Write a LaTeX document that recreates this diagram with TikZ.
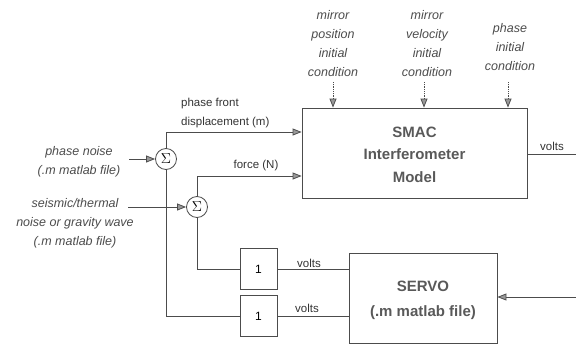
\documentclass[tikz,border=0pt]{standalone}
\usepackage{fontspec}
\setmainfont{Liberation Sans}
\usetikzlibrary{arrows.meta}
\begin{document}
\begin{tikzpicture}[x=1pt,y=-1pt,
  line/.style={draw=black!70, line width=0.8pt},
  arr/.style={line, -{Triangle[length=9pt,width=7pt,fill=black!40]}},
  darr/.style={arr, densely dotted},
  lbl/.style={font=\fontsize{11.5}{19}\selectfont, text=black!80, inner sep=1pt},
  ilbl/.style={font=\fontsize{12.5}{19}\selectfont\itshape, text=black!70, align=center, inner sep=0pt},
  big/.style={font=\fontsize{15}{22.5}\selectfont\bfseries, text=black!65, align=center},
  sumnode/.style={draw=black!70, line width=0.8pt, circle, minimum size=21pt, inner sep=0pt, font=\fontsize{14}{16}\selectfont},
  unitbox/.style={draw=black!70, line width=0.8pt, minimum width=37pt, minimum height=41pt, inner sep=0pt, font=\fontsize{12}{14}\selectfont},
]
\useasboundingbox (0,0) rectangle (576,343);

% main blocks
\node[draw=black!70, line width=0.8pt, minimum width=225pt, minimum height=90pt] (smac) at (414.5,153) {};
\node[big] at (414.5,154.5) {SMAC\\Interferometer\\Model};
\node[draw=black!70, line width=0.8pt, minimum width=148pt, minimum height=90pt] (servo) at (423,298) {};
\node[big, font=\fontsize{15}{25}\selectfont\bfseries] at (423,300) {SERVO\\(.m matlab file)};

% summing junctions
\node[sumnode] (s1) at (166,159) {$\Sigma$};
\node[sumnode] (s2) at (197,207) {$\Sigma$};

% unit gains
\node[unitbox] (g1) at (258.5,269) {1};
\node[unitbox] (g2) at (258.5,316) {1};

% input labels
\node[ilbl] (pn) at (79,162) {phase noise\\(.m matlab file)};
\node[ilbl] (sn) at (75,223.5) {seismic/thermal\\noise or gravity wave\\(.m matlab file)};
\coordinate (pnend) at (129,159);
\coordinate (snend) at (128,207);
\draw[arr] (pnend) -- (s1);
\draw[arr] (snend) -- (s2);

% top initial-condition labels
\node[ilbl] (ic1) at (333,43.5) {mirror\\position\\initial\\condition};
\node[ilbl] (ic2) at (427,43.5) {mirror\\velocity\\initial\\condition};
\node[ilbl] (ic3) at (510,47.5) {phase\\initial\\condition};
\coordinate (c1) at (333,82);
\coordinate (c2) at (424,82);
\coordinate (c3) at (508,82);
\draw[darr] (c1) -- (c1 |- smac.north);
\draw[darr] (c2) -- (c2 |- smac.north);
\draw[darr] (c3) -- (c3 |- smac.north);

% sum outputs into SMAC
\coordinate (k1) at (166,132);
\coordinate (k2) at (197,176);
\draw[arr] (s1.north) -- (k1) -- (k1 -| smac.west);
\draw[arr] (s2.north) -- (k2) -- (k2 -| smac.west);
\node[lbl, anchor=west, align=left] (pfd) at (180,113.5) {phase front\\displacement (m)};
\node[lbl] (frc) at (256,166) {force (N)};

% sum outputs down to unit gains
\draw[line] (s1.south) |- (g2.west);
\draw[line] (s2.south) |- (g1.west);

% unit gains to servo
\draw[line] (g1.east) -- (g1.east -| servo.west);
\draw[line] (g2.east) -- (g2.east -| servo.west);
\node[lbl] (v1) at (309,263) {volts};
\node[lbl] (v2) at (307,308) {volts};

% SMAC output
\coordinate (out) at (576,154);
\draw[line] (smac.east |- out) -- (out);
\node[lbl] (v3) at (552,146) {volts};

% feedback into servo
\coordinate (fb) at (576,297);
\draw[arr] (fb) -- (fb -| servo.east);
\end{tikzpicture}
\end{document}
